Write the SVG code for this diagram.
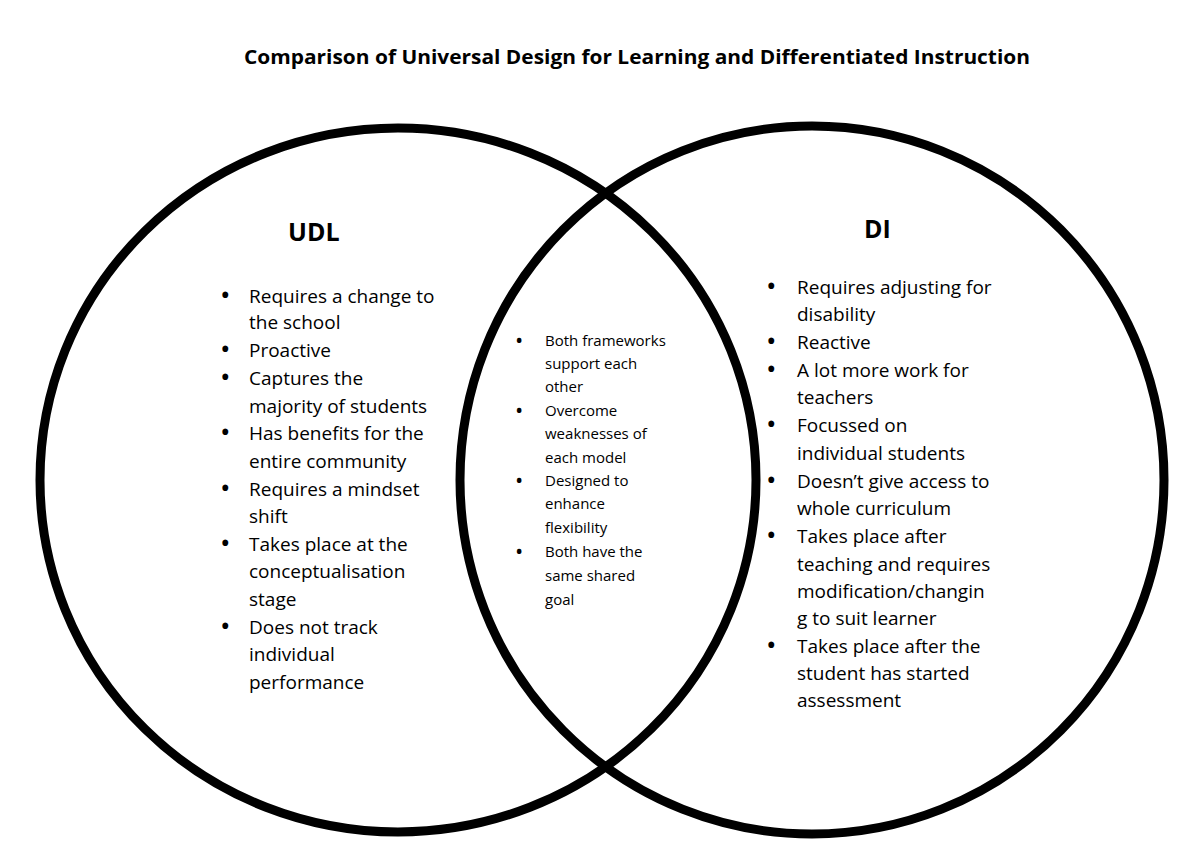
<svg xmlns="http://www.w3.org/2000/svg" width="1200" height="854" viewBox="0 0 1200 854">
<style>
text{font-family:"Open Sans","Liberation Sans",sans-serif;fill:#000}
.t{font-size:19px}
.c{font-size:15px}
.h{font-size:25px;font-weight:bold}
.t tspan.d{font-size:28px}
.c tspan.d{font-size:22px}
</style>
<rect width="1200" height="854" fill="#fff"/>
<text x="637" y="64" text-anchor="middle" font-size="19" font-weight="bold" textLength="786" lengthAdjust="spacingAndGlyphs">Comparison of Universal Design for Learning and Differentiated Instruction</text>
<g id="connectors"></g>
<g id="udl">
<ellipse cx="398" cy="480" rx="358" ry="352" fill="none" stroke="#000" stroke-width="9"/>
<text class="h" x="288" y="241">UDL</text>
<g class="t">
<text x="220" y="305"><tspan class="d">•</tspan></text><text x="249" y="303">Requires a change to</text>
<text x="249" y="329">the school</text>
<text x="220" y="359"><tspan class="d">•</tspan></text><text x="249" y="357">Proactive</text>
<text x="220" y="387"><tspan class="d">•</tspan></text><text x="249" y="385">Captures the</text>
<text x="249" y="413">majority of students</text>
<text x="220" y="442"><tspan class="d">•</tspan></text><text x="249" y="440">Has benefits for the</text>
<text x="249" y="468">entire community</text>
<text x="220" y="498"><tspan class="d">•</tspan></text><text x="249" y="496">Requires a mindset</text>
<text x="249" y="523">shift</text>
<text x="220" y="553"><tspan class="d">•</tspan></text><text x="249" y="551">Takes place at the</text>
<text x="249" y="578">conceptualisation</text>
<text x="249" y="606">stage</text>
<text x="220" y="636"><tspan class="d">•</tspan></text><text x="249" y="634">Does not track</text>
<text x="249" y="661">individual</text>
<text x="249" y="689">performance</text>
</g>
</g>
<g id="di">
<ellipse cx="812" cy="480" rx="352" ry="354" fill="none" stroke="#000" stroke-width="9"/>
<text class="h" x="864" y="238">DI</text>
<g class="t">
<text x="766" y="296"><tspan class="d">•</tspan></text><text x="797" y="294">Requires adjusting for</text>
<text x="797" y="321">disability</text>
<text x="766" y="351"><tspan class="d">•</tspan></text><text x="797" y="349">Reactive</text>
<text x="766" y="379"><tspan class="d">•</tspan></text><text x="797" y="377">A lot more work for</text>
<text x="797" y="404">teachers</text>
<text x="766" y="434"><tspan class="d">•</tspan></text><text x="797" y="432">Focussed on</text>
<text x="797" y="460">individual students</text>
<text x="766" y="490"><tspan class="d">•</tspan></text><text x="797" y="488">Doesn’t give access to</text>
<text x="797" y="515">whole curriculum</text>
<text x="766" y="545"><tspan class="d">•</tspan></text><text x="797" y="543">Takes place after</text>
<text x="797" y="571">teaching and requires</text>
<text x="797" y="598">modification/changin</text>
<text x="797" y="625">g to suit learner</text>
<text x="766" y="655"><tspan class="d">•</tspan></text><text x="797" y="653">Takes place after the</text>
<text x="797" y="680">student has started</text>
<text x="797" y="707">assessment</text>
</g>
</g>
<g id="both" class="c">
<text x="515" y="348"><tspan class="d">•</tspan></text><text x="545" y="346">Both frameworks</text>
<text x="545" y="369">support each</text>
<text x="545" y="392">other</text>
<text x="515" y="418"><tspan class="d">•</tspan></text><text x="545" y="416">Overcome</text>
<text x="545" y="439">weaknesses of</text>
<text x="545" y="463">each model</text>
<text x="515" y="488"><tspan class="d">•</tspan></text><text x="545" y="486">Designed to</text>
<text x="545" y="509">enhance</text>
<text x="545" y="533">flexibility</text>
<text x="515" y="559"><tspan class="d">•</tspan></text><text x="545" y="557">Both have the</text>
<text x="545" y="581">same shared</text>
<text x="545" y="605">goal</text>
</g>
</svg>
